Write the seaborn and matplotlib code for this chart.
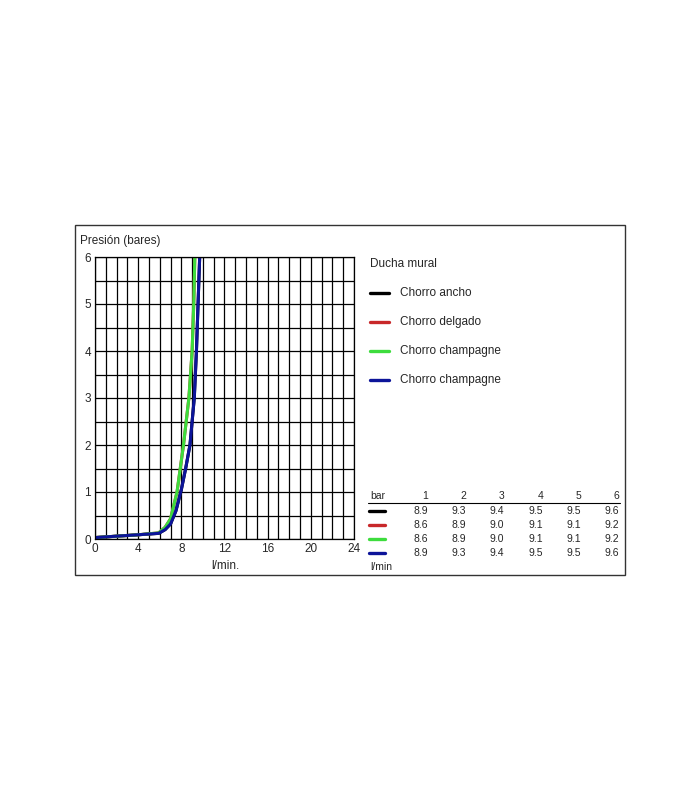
import numpy as np
import pandas as pd
import seaborn as sns
import matplotlib.pyplot as plt
from matplotlib.lines import Line2D
from matplotlib.patches import Rectangle

# ---------- DATA ----------

series_names = ["Chorro ancho", "Chorro delgado", "Chorro champagne", "Chorro champagne "]
series_colors = ["#000000", "#c8282a", "#3ddc3d", "#0c1499"]

# curve points (flow l/min, pressure bar)
wide_flow = [0.0, 2.0, 4.0, 5.9, 6.5, 7.0, 7.5, 8.0, 8.4, 8.8, 9.2, 9.4, 9.55, 9.7]
wide_pres = [0.03, 0.06, 0.09, 0.12, 0.2, 0.32, 0.6, 1.05, 1.5, 2.0, 3.0, 4.0, 5.0, 6.0]
thin_flow = [0.0, 2.0, 4.0, 5.9, 6.5, 7.0, 7.6, 8.2, 8.7, 9.0, 9.15, 9.25]
thin_pres = [0.03, 0.06, 0.09, 0.13, 0.25, 0.43, 1.0, 2.0, 3.0, 4.0, 5.0, 6.0]

# table
table_bar = ["1", "2", "3", "4", "5", "6"]
table_rows = [
    ["8.9", "9.3", "9.4", "9.5", "9.5", "9.6"],
    ["8.6", "8.9", "9.0", "9.1", "9.1", "9.2"],
    ["8.6", "8.9", "9.0", "9.1", "9.1", "9.2"],
    ["8.9", "9.3", "9.4", "9.5", "9.5", "9.6"],
]

x_ticks = [0, 4, 8, 12, 16, 20, 24]
y_ticks = [0, 1, 2, 3, 4, 5, 6]

curves = [(wide_flow, wide_pres), (thin_flow, thin_pres),
          (thin_flow, thin_pres), (wide_flow, wide_pres)]

frames = []
for name, (cx, cy) in zip(series_names, curves):
    frames.append(pd.DataFrame({"flow": cx, "pres": cy, "serie": name}))
df = pd.concat(frames, ignore_index=True)

# ---------- FIGURE ----------

sns.set_style("white")
plt.rcParams["font.family"] = ["Liberation Sans", "DejaVu Sans"]

W, H = 700, 800
fig = plt.figure(figsize=(7, 8), dpi=100)


def fx(px):
    return px / W


def fy(py):
    return 1 - py / H


fig.add_artist(Rectangle((fx(75), fy(575)), fx(625) - fx(75), fy(225) - fy(575),
                         transform=fig.transFigure, fill=False,
                         edgecolor="#333333", linewidth=1))

ax = fig.add_axes([fx(95), fy(539), fx(354) - fx(95), fy(257) - fy(539)])

sns.lineplot(
    data=df,
    x="flow",
    y="pres",
    hue="serie",
    palette=dict(zip(series_names, series_colors)),
    sort=False,
    estimator=None,
    linewidth=2.2,
    legend=False,
    ax=ax
)

ax.set_xlim(0, 24)
ax.set_ylim(0, 6)
ax.set_xticks(x_ticks)
ax.set_yticks(y_ticks)
ax.set_xticks(np.arange(0, 25, 1), minor=True)
ax.set_yticks(np.arange(0, 6.5, 0.5), minor=True)
ax.grid(which="both", color="black", linewidth=0.9)
ax.set_axisbelow(True)
ax.tick_params(which="both", length=0, labelsize=8.5, pad=3)
for s in ax.spines.values():
    s.set_color("black")
    s.set_linewidth(0.9)
ax.set_xlabel("")
ax.set_ylabel("")

fig.text(fx(80), fy(241), "Presión (bares)", fontsize=8.5, va="center", ha="left")
fig.text(fx(225), fy(566), "l/min.", fontsize=8.5, va="center", ha="center")

# ---------- LEGEND ----------

fig.text(fx(370), fy(264), "Ducha mural", fontsize=8.5, va="center")
for i, (name, col) in enumerate(zip(series_names, series_colors)):
    yy = fy(293 + i * 29)
    fig.add_artist(Line2D([fx(370), fx(389)], [yy, yy], color=col,
                          linewidth=2.4, transform=fig.transFigure))
    fig.text(fx(400), yy, name.strip(), fontsize=8.5, va="center")

# ---------- TABLE ----------

col_x = [428, 466, 504, 543, 581, 619]
fig.text(fx(370), fy(496), "bar", fontsize=7.5, va="center")
for cx, lab in zip(col_x, table_bar):
    fig.text(fx(cx), fy(496), lab, fontsize=7.5, va="center", ha="right")
fig.add_artist(Line2D([fx(368), fx(620)], [fy(503), fy(503)], color="black",
                      linewidth=0.8, transform=fig.transFigure))
for i, (row, col) in enumerate(zip(table_rows, series_colors)):
    yy = fy(511 + i * 14)
    fig.add_artist(Line2D([fx(369), fx(385)], [yy, yy], color=col,
                          linewidth=2.4, transform=fig.transFigure))
    for cx, val in zip(col_x, row):
        fig.text(fx(cx), yy, val, fontsize=7.5, va="center", ha="right")
fig.text(fx(370), fy(567), "l/min", fontsize=7.5, va="center")

fig.savefig("out.png", dpi=100, facecolor="white")
